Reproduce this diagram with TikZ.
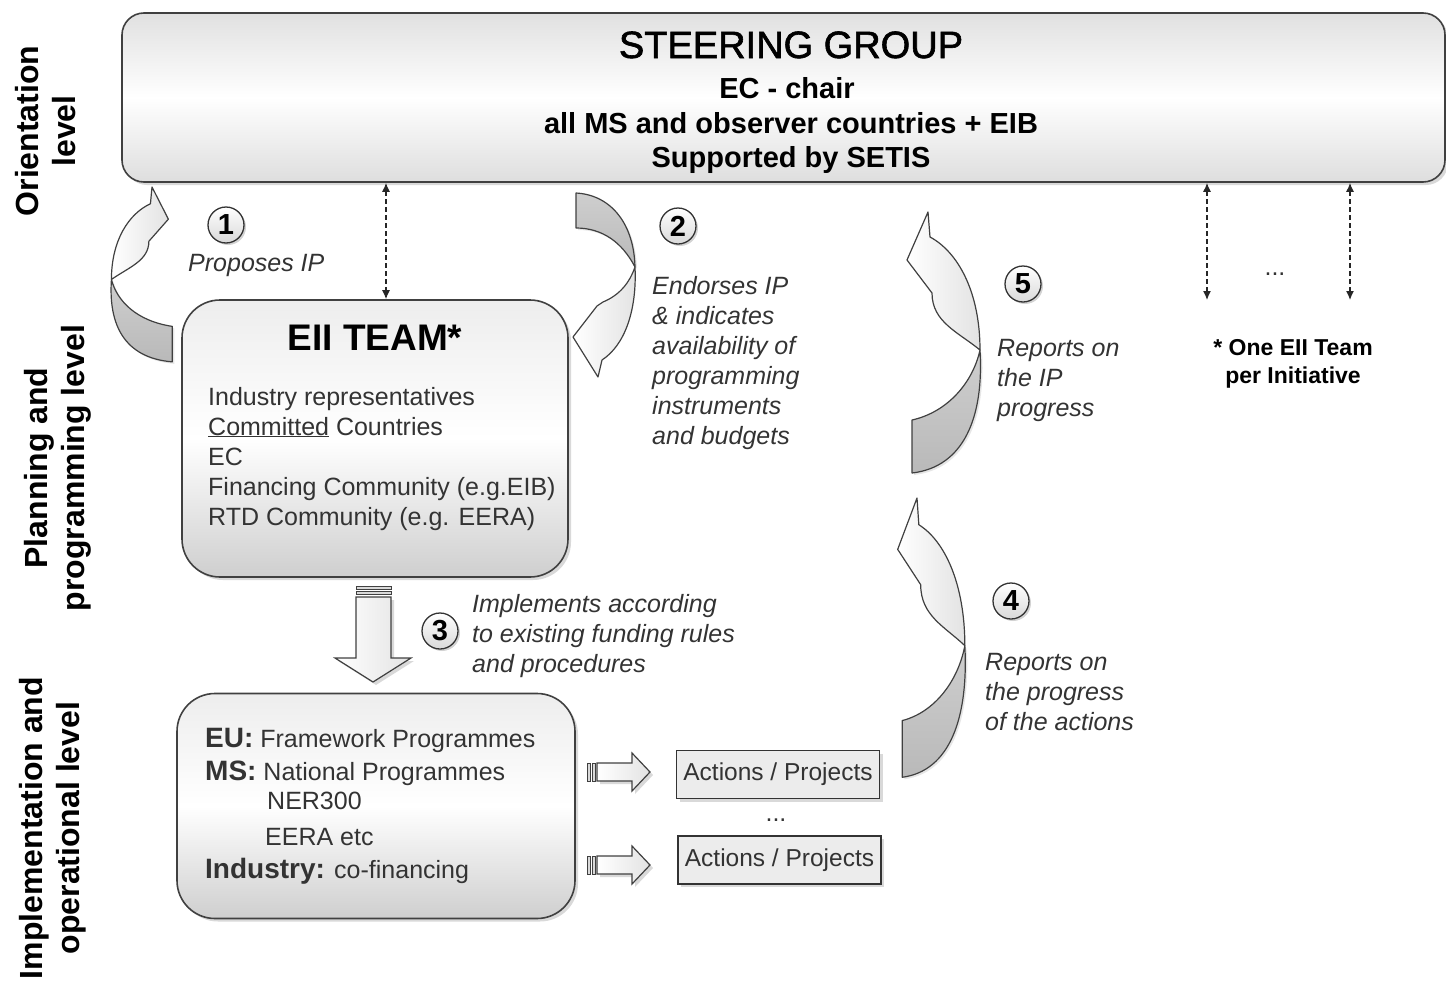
\documentclass[tikz,border=0pt]{standalone}
\usepackage{fontspec}
\setmainfont{Liberation Sans}
\newfontfamily\semibold[FakeBold=1.6]{Liberation Sans}
\usetikzlibrary{shadows,arrows.meta}
\newcommand\myfs[2]{\fontsize{#1}{#2}\selectfont}
\begin{document}
\begin{tikzpicture}[x=1pt,y=-1pt,
  shad/.style={drop shadow={opacity=0.3, shadow xshift=3pt, shadow yshift=-3pt}},
  rbox/.style={draw=black!75, line width=1.6pt, rounded corners=38pt,
     top color=gray!14, bottom color=gray!38, middle color=white, shad},
  txt/.style={inner sep=0pt, text=black},
  body/.style={inner sep=0pt, text=black!80, font=\myfs{25}{30}, align=left},
  lbl/.style={inner sep=0pt, text=black!80, font=\itshape\myfs{25}{30}, align=left},
  vlabel/.style={rotate=90, align=center, inner sep=0pt, font=\bfseries\myfs{32}{37}},
  numcirc/.style={circle, draw=black!80, line width=1.3pt, inner sep=0pt, minimum size=36pt,
     top color=white, bottom color=gray!30, font=\bfseries\myfs{29}{29},
     drop shadow={opacity=0.35, shadow xshift=2pt, shadow yshift=-2pt}},
  actbox/.style={draw=black!80, line width=1.3pt, fill=gray!15, minimum width=203pt,
     minimum height=48pt, inner sep=0pt, font=\myfs{24.5}{26}, text=black!80, shad},
  dotarrow/.style={line width=1.3pt, black!85, dash pattern=on 5pt off 3pt,
     {Latex[length=9pt,width=8pt]}-{Latex[length=9pt,width=8pt]}},
  backpart/.style={draw=black!75, line width=1.2pt, line join=round, top color=gray!38, bottom color=gray!55,
     drop shadow={opacity=0.2, shadow xshift=2pt, shadow yshift=-2pt}},
  frontpart/.style={draw=black!75, line width=1.2pt, line join=round, left color=white, right color=gray!22},
  blockarrow/.style={draw=black!75, line width=1.2pt, left color=white, right color=gray!22, shad},
  stripe/.style={draw=black!75, line width=1pt, fill=gray!30}
]
\useasboundingbox (0,0) rectangle (1446,988);
\newcommand\swoosh[1]{%
  \path[backpart] (52,138) .. controls (56,205) and (36,255) .. (#1,261) -- (#1,208)
     .. controls (20,200) and (45,170) .. (52,138) -- cycle;
  \path[frontpart] (0,0) -- (2,25) .. controls (30,40) and (52,80) .. (52,138)
     .. controls (30,120) and (4,110) .. (4,81) -- (-21,48) -- cycle;
}

% level labels
\node[vlabel] (lvl1) at (46,131) {Orientation\\level};
\node[vlabel] (lvl2) at (58,468) {Planning and\\programming level};
\node[vlabel] (lvl3) at (53,828) {Implementation and\\operational level};

% steering group
\node[rbox, rounded corners=22pt, top color=gray!24, bottom color=gray!26, middle color=white,
      minimum width=1323pt, minimum height=169pt] (steer) at (783.5,97.5) {};
\node[txt, anchor=base, font=\semibold\myfs{38}{40}] (sg1) at (791,58) {STEERING GROUP};
\node[txt, anchor=base, font=\bfseries\myfs{29}{30}] (sg2) at (787,98) {EC - chair};
\node[txt, anchor=base, font=\bfseries\myfs{29}{30}] (sg3) at (791,133) {all MS and observer countries + EIB};
\node[txt, anchor=base, font=\bfseries\myfs{29}{30}] (sg4) at (791,167) {Supported by SETIS};

% EII team box
\node[rbox, minimum width=386pt, minimum height=277pt] (eii) at (375,438.5) {};
\node[txt, anchor=base, font=\bfseries\myfs{37}{40}] (eiit) at (375,350) {EII TEAM*};
\node[body, anchor=base west] (eiib) at (208,525) {Industry representatives\\\underline{Committed} Countries\\EC\\Financing Community (e.g.EIB)\\RTD Community (e.g. EERA)};

% implementation box
\node[rbox, minimum width=398pt, minimum height=225pt] (impl) at (376,806) {};
\node[body, anchor=base west] (im1) at (205,747) {{\bfseries\myfs{28}{30}EU:} Framework Programmes};
\node[body, anchor=base west] (im2) at (205,780) {{\bfseries\myfs{28}{30}MS:} National Programmes};
\node[body, anchor=base west] (im3) at (267,809) {NER300};
\node[body, anchor=base west] (im4) at (265,845) {EERA etc};
\node[body, anchor=base west] (im5) at (205,878) {{\bfseries\myfs{28}{30}Industry:} co-financing};

% actions
\node[actbox] (act1) at (778,774.5) {Actions / Projects};
\node[actbox] (act2) at (779.5,860) {Actions / Projects};
\node[txt, anchor=base, font=\myfs{25}{25}, text=black!80] (dots1) at (776,821) {...};

% dotted connectors
\coordinate (d1) at (386,0);
\coordinate (d2) at (1207,300);
\coordinate (d3) at (1350,300);
\draw[dotarrow] (steer.south -| d1) -- (eii.north -| d1);
\draw[dotarrow] (steer.south -| d2) -- (d2);
\draw[dotarrow] (steer.south -| d3) -- (d3);
\node[txt, anchor=base, font=\myfs{25}{25}, text=black!80] (dots2) at (1275,275) {...};
\node[txt, anchor=base, align=center, font=\bfseries\myfs{23}{28}] (note) at (1293,383) {* One EII Team\\per Initiative};

% curved arrows
\begin{scope}[shift={(152,187)}, xscale=-0.78, yscale=0.67] \swoosh{-26} \end{scope}
\begin{scope}[shift={(928,212)}] \swoosh{-16} \end{scope}
\begin{scope}[shift={(917,498)}, xscale=0.92, yscale=1.07] \swoosh{-16} \end{scope}
% arrow 2
\path[backpart] (576,193) .. controls (612,195) and (634,225) .. (635,267)
   .. controls (622,242) and (602,228) .. (576,228) -- cycle;
\path[frontpart] (635,267) .. controls (637,310) and (625,345) .. (602,360) -- (598,377)
   -- (573,337) -- (597,306) -- (603,302) .. controls (620,295) and (630,282) .. (635,267) -- cycle;

% block arrow 3
\path[blockarrow] (356,597) -- (391,597) -- (391,658) -- (411,658) -- (373,682)
   -- (335,658) -- (356,658) -- cycle;
\path[stripe] (356,586.5) rectangle (391,589.5);
\path[stripe] (356,591.5) rectangle (391,594.5);

% small right arrows
\foreach \yy/\nm in {772/ra1, 865/ra2}{
  \path[blockarrow] (597,\yy-9) -- (632,\yy-9) -- (632,\yy-19) -- (650,\yy) -- (632,\yy+19)
     -- (632,\yy+9) -- (597,\yy+9) -- cycle;
  \path[stripe] (587,\yy-9) rectangle (590,\yy+9);
  \path[stripe] (592,\yy-9) rectangle (595,\yy+9);
}

% numbers
\node[numcirc] (n1) at (226,225) {1};
\node[numcirc] (n2) at (678,226) {2};
\node[numcirc] (n3) at (440,631) {3};
\node[numcirc] (n4) at (1011,601) {4};
\node[numcirc] (n5) at (1023,284) {5};

% labels
\node[lbl, anchor=base west] (l1) at (188,271) {Proposes IP};
\node[lbl, anchor=base west] (l2) at (652,444) {Endorses IP\\\& indicates\\availability of\\programming\\instruments\\and budgets};
\node[lbl, anchor=base west] (l3) at (472,672) {Implements according\\to existing funding rules\\and procedures};
\node[lbl, anchor=base west] (l5) at (997,416) {Reports on\\the IP\\progress};
\node[lbl, anchor=base west] (l4) at (985,730) {Reports on\\the progress\\of the actions};
\end{tikzpicture}
\end{document}
